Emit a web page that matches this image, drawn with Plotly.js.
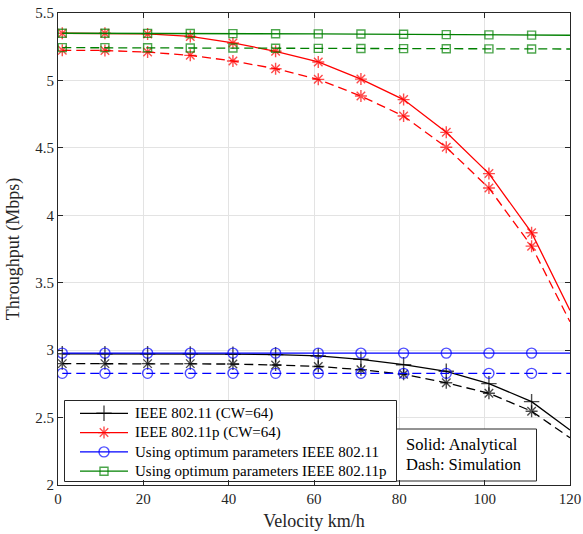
<!DOCTYPE html>
<html>
<head>
<meta charset="utf-8">
<script src="https://cdn.plot.ly/plotly-3.0.1.min.js"></script>
<style>html,body{margin:0;padding:0;background:#fff;}#chart{width:583px;height:534px;}</style>
</head>
<body>
<div id="chart"></div>
<script>
// Velocity (km/h) sample points
const velocity = [1, 11, 21, 31, 41, 51, 61, 71, 81, 91, 101, 111, 120];

// Series values (Mbps)
const ieee80211Analytical = [2.973, 2.973, 2.973, 2.972, 2.970, 2.967, 2.957, 2.932, 2.892, 2.843, 2.752, 2.618, 2.408];
const ieee80211Simulation = [2.900, 2.900, 2.900, 2.900, 2.897, 2.890, 2.879, 2.855, 2.822, 2.758, 2.680, 2.547, 2.350];
const ieee80211pAnalytical = [5.350, 5.350, 5.345, 5.326, 5.278, 5.216, 5.137, 5.010, 4.858, 4.615, 4.309, 3.871, 3.295];
const ieee80211pSimulation = [5.223, 5.222, 5.210, 5.186, 5.144, 5.087, 5.008, 4.884, 4.736, 4.504, 4.202, 3.771, 3.210];
const opt80211Analytical = [2.978, 2.978, 2.978, 2.978, 2.978, 2.978, 2.978, 2.978, 2.978, 2.978, 2.978, 2.978, 2.978];
const opt80211Simulation = [2.828, 2.828, 2.828, 2.828, 2.828, 2.828, 2.828, 2.828, 2.828, 2.828, 2.828, 2.828, 2.828];
const opt80211pAnalytical = [5.350, 5.350, 5.349, 5.348, 5.347, 5.346, 5.345, 5.344, 5.342, 5.340, 5.338, 5.336, 5.335];
const opt80211pSimulation = [5.243, 5.243, 5.242, 5.241, 5.240, 5.239, 5.238, 5.237, 5.236, 5.235, 5.234, 5.233, 5.233];

const seriesNames = [
  'IEEE 802.11 (CW=64)',
  'IEEE 802.11p (CW=64)',
  'Using optimum parameters IEEE 802.11',
  'Using optimum parameters IEEE 802.11p'
];
const noteLines = ['Solid: Analytical', 'Dash: Simulation'];
const xTicks = [0, 20, 40, 60, 80, 100, 120];
const yTicks = [2, 2.5, 3, 3.5, 4, 4.5, 5, 5.5];
const xRange = [0, 120];
const yRange = [2, 5.5];

const FONT = 'Liberation Serif, Times New Roman, serif';
const INK = '#262626';
const DASH = '9px,5px';

// styles per series: colour, analytical symbol, simulation symbol, size
const styles = [
  {color: '#000000', symA: 'cross-thin-open', symS: 'asterisk-open', sizeA: 11, sizeS: 10},
  {color: '#ff0000', symA: 'asterisk-open', symS: 'asterisk-open', sizeA: 10, sizeS: 10},
  {color: '#0000ff', symA: 'circle-open', symS: 'circle-open', sizeA: 10, sizeS: 10},
  {color: '#008000', symA: 'square-open', symS: 'square-open', sizeA: 8, sizeS: 8}
];
const analytical = [ieee80211Analytical, ieee80211pAnalytical, opt80211Analytical, opt80211pAnalytical];
const simulation = [ieee80211Simulation, ieee80211pSimulation, opt80211Simulation, opt80211pSimulation];

function sizes(s) { return velocity.map((v, i) => i === velocity.length - 1 ? 0 : s); }

function mk(name, y, st, symbol, msize, dash) {
  return {
    x: velocity, y: y, name: name, type: 'scatter', mode: 'lines+markers',
    showlegend: false, cliponaxis: true,
    line: {color: st.color, width: 1.3, dash: dash},
    marker: {symbol: symbol, size: sizes(msize), color: st.color,
             line: {color: st.color, width: 1.4}}
  };
}

const traces = [];
for (let i = 0; i < 4; i++) traces.push(mk(seriesNames[i], analytical[i], styles[i], styles[i].symA, styles[i].sizeA, 'solid'));
for (let i = 0; i < 4; i++) traces.push(mk(seriesNames[i], simulation[i], styles[i], styles[i].symS, styles[i].sizeS, DASH));

// Hand-built legend and note box, positioned in pixels (layout only)
const PLOT = {left: 58, right: 570, top: 13, bottom: 485};
const LEG = {x0: 64.5, x1: 396.5, y0: 400.5, y1: 481.5, lineX0: 80, lineX1: 128, textX: 133, rowY: [413.3, 432.6, 451.9, 471.2]};
const NOTE = {x0: 396.5, x1: 536.5, y0: 429, y1: 481, textX: 404, rowY: [444.5, 464.5]};
function px2x(px) { return xRange[0] + (px - PLOT.left) / (PLOT.right - PLOT.left) * (xRange[1] - xRange[0]); }
function py2y(py) { return yRange[0] + (PLOT.bottom - py) / (PLOT.bottom - PLOT.top) * (yRange[1] - yRange[0]); }

for (let i = 0; i < 4; i++) {
  const st = styles[i], yy = LEG.rowY[i];
  traces.push({
    x: [LEG.lineX0, (LEG.lineX0 + LEG.lineX1) / 2, LEG.lineX1], y: [yy, yy, yy],
    xaxis: 'x2', yaxis: 'y2', type: 'scatter', mode: 'lines+markers', showlegend: false,
    hoverinfo: 'skip', cliponaxis: false,
    line: {color: st.color, width: 1.3},
    marker: {symbol: st.symA, size: [0, st.sizeA, 0], color: st.color, line: {color: st.color, width: 1.4}}
  });
}

const axisCommon = {
  showline: true, mirror: 'ticks', linecolor: INK, linewidth: 1,
  ticks: 'inside', ticklen: 5, tickcolor: INK, tickwidth: 1,
  showgrid: true, gridcolor: '#e3e3e3', gridwidth: 1, zeroline: false,
  tickfont: {family: FONT, size: 15, color: INK}
};

const annotations = [];
for (let i = 0; i < 4; i++) {
  annotations.push({xref: 'x2', yref: 'y2', x: LEG.textX, y: LEG.rowY[i], xanchor: 'left', yanchor: 'middle',
    showarrow: false, text: seriesNames[i], font: {family: FONT, size: 15, color: '#000000'}});
}
for (let i = 0; i < 2; i++) {
  annotations.push({xref: 'x2', yref: 'y2', x: NOTE.textX, y: NOTE.rowY[i], xanchor: 'left', yanchor: 'middle',
    showarrow: false, text: noteLines[i], font: {family: FONT, size: 16.5, color: '#000000'}});
}

function box(b) {
  return {type: 'rect', xref: 'x', yref: 'y', x0: px2x(b.x0), x1: px2x(b.x1), y0: py2y(b.y0), y1: py2y(b.y1),
    line: {color: INK, width: 1}, fillcolor: '#ffffff', layer: 'between'};
}

const layout = {
  width: 583, height: 534,
  margin: {l: 58, r: 13, t: 13, b: 49},
  paper_bgcolor: '#ffffff', plot_bgcolor: '#ffffff',
  font: {family: FONT, color: INK},
  showlegend: false,
  xaxis: Object.assign({}, axisCommon, {
    range: xRange, tickvals: xTicks, ticktext: xTicks.map(String),
    title: {text: 'Velocity km/h', font: {family: FONT, size: 18, color: INK}, standoff: 8}
  }),
  yaxis: Object.assign({}, axisCommon, {
    range: yRange, tickvals: yTicks, ticktext: yTicks.map(String),
    title: {text: 'Throughput (Mbps)', font: {family: FONT, size: 18, color: INK}, standoff: 10}
  }),
  xaxis2: {overlaying: 'x', anchor: 'y2', range: [PLOT.left, PLOT.right], visible: false, fixedrange: true},
  yaxis2: {overlaying: 'y', anchor: 'x2', range: [PLOT.bottom, PLOT.top], visible: false, fixedrange: true},
  shapes: [box(LEG), box(NOTE)],
  annotations: annotations
};

Plotly.newPlot('chart', traces, layout, {displayModeBar: false, staticPlot: true});
</script>
</body>
</html>
